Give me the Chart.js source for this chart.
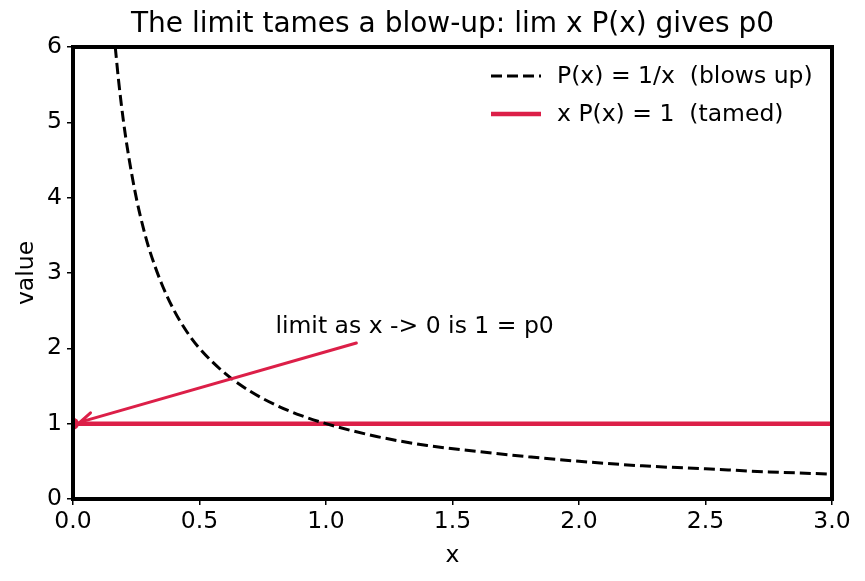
<!DOCTYPE html>
<html>
<head>
<meta charset="utf-8">
<script src="https://cdn.jsdelivr.net/npm/chart.js@4/dist/chart.umd.min.js"></script>
<style>
  html, body { margin: 0; padding: 0; background: #fff; }
  #wrap { width: 865px; height: 581px; }
</style>
</head>
<body>
<div id="wrap"><canvas id="limitChart"></canvas></div>
<script>
// values
const curveX = [0.167, 0.18, 0.2, 0.22, 0.25, 0.28, 0.3, 0.35, 0.4, 0.45, 0.5, 0.6, 0.7, 0.8, 0.9, 1.0, 1.2, 1.4, 1.6, 1.8, 2.0, 2.25, 2.5, 2.75, 3.0];
const curveY = [6.0, 5.56, 5.0, 4.55, 4.0, 3.57, 3.33, 2.86, 2.5, 2.22, 2.0, 1.67, 1.43, 1.25, 1.11, 1.0, 0.83, 0.71, 0.63, 0.56, 0.5, 0.44, 0.4, 0.36, 0.33];
const tamedX = [0, 3];
const tamedY = [1, 1];
const xTicks = [0, 0.5, 1.0, 1.5, 2.0, 2.5, 3.0];
const yTicks = [0, 1, 2, 3, 4, 5, 6];
const noteText = 'limit as x -> 0 is 1 = p0';
const noteAt = [0.8, 2.22];
const arrowFrom = [1.12, 2.07];
const arrowTo = [0.028, 1.02];

const RED = '#dc1f48';
const FONT = "'DejaVu Sans', sans-serif";
const FS = 23.5;

function toPoints(xs, ys) {
  return xs.map((x, i) => ({ x: x, y: ys[i] }));
}

// title, frame, legend and the arrow note
const decor = {
  id: 'decor',
  afterDatasetsDraw(chart) {
    const { ctx, chartArea: a, scales } = chart;
    const px = v => scales.x.getPixelForValue(v);
    const py = v => scales.y.getPixelForValue(v);
    ctx.save();

    // arrow
    const x1 = px(arrowFrom[0]), y1 = py(arrowFrom[1]);
    const x2 = px(arrowTo[0]), y2 = py(arrowTo[1]);
    ctx.strokeStyle = RED;
    ctx.lineWidth = 3;
    ctx.lineCap = 'round';
    ctx.beginPath();
    ctx.moveTo(x1, y1);
    ctx.lineTo(x2, y2);
    const ang = Math.atan2(y1 - y2, x1 - x2);
    for (const d of [-0.45, 0.45]) {
      ctx.moveTo(x2, y2);
      ctx.lineTo(x2 + 14 * Math.cos(ang + d), y2 + 14 * Math.sin(ang + d));
    }
    ctx.stroke();

    ctx.fillStyle = '#000';
    ctx.font = FS + 'px ' + FONT;
    ctx.textAlign = 'left';
    ctx.textBaseline = 'alphabetic';
    ctx.fillText(noteText, px(noteAt[0]), py(noteAt[1]) + 1);

    // frame
    ctx.strokeStyle = '#000';
    ctx.lineWidth = 4;
    ctx.lineCap = 'butt';
    ctx.strokeRect(a.left, a.top, a.right - a.left, a.bottom - a.top);

    // title
    ctx.font = '28px ' + FONT;
    ctx.textAlign = 'center';
    ctx.textBaseline = 'middle';
    ctx.fillText('The limit tames a blow-up: lim x P(x) gives p0', (a.left + a.right) / 2, 25);

    // legend
    ctx.font = FS + 'px ' + FONT;
    ctx.textAlign = 'left';
    chart.data.datasets.forEach((ds, i) => {
      const y = 76 + i * 38;
      ctx.strokeStyle = ds.borderColor;
      ctx.lineWidth = ds.borderWidth;
      ctx.setLineDash(ds.borderDash || []);
      ctx.beginPath();
      ctx.moveTo(491, y);
      ctx.lineTo(541, y);
      ctx.stroke();
      ctx.setLineDash([]);
      ctx.fillText(ds.label, 557, y + 1);
    });
    ctx.restore();
  }
};

new Chart(document.getElementById('limitChart'), {
  type: 'line',
  data: {
    datasets: [{
      label: 'P(x) = 1/x  (blows up)',
      data: toPoints(curveX, curveY),
      borderColor: '#000',
      borderWidth: 3,
      borderDash: [11, 5],
      pointRadius: 0,
      cubicInterpolationMode: 'monotone'
    }, {
      label: 'x P(x) = 1  (tamed)',
      data: toPoints(tamedX, tamedY),
      borderColor: RED,
      backgroundColor: RED,
      borderWidth: 4.5,
      pointRadius: [6, 0],
      pointBorderWidth: 0
    }]
  },
  options: {
    responsive: true,
    maintainAspectRatio: false,
    animation: false,
    layout: { padding: { top: 47, right: 33, left: 0, bottom: 0 } },
    plugins: {
      legend: { display: false },
      tooltip: { enabled: false }
    },
    scales: {
      x: {
        type: 'linear',
        min: 0,
        max: 3,
        afterBuildTicks: s => { s.ticks = xTicks.map(v => ({ value: v })); },
        afterFit: s => { s.height = 82; },
        grid: { drawOnChartArea: false, drawTicks: true, tickLength: 6, color: '#000', lineWidth: 1.5 },
        border: { display: false },
        ticks: {
          color: '#000',
          font: { family: FONT, size: FS },
          padding: 3,
          maxRotation: 0,
          callback: v => v.toFixed(1)
        },
        title: { display: true, text: 'x', color: '#000', font: { family: FONT, size: FS }, padding: { top: 0, bottom: 11 } }
      },
      y: {
        min: 0,
        max: 6,
        afterBuildTicks: s => { s.ticks = yTicks.map(v => ({ value: v })); },
        afterFit: s => { s.width = 73; },
        grid: { drawOnChartArea: false, drawTicks: true, tickLength: 6, color: '#000', lineWidth: 1.5 },
        border: { display: false },
        ticks: {
          color: '#000',
          font: { family: FONT, size: FS },
          padding: 5,
          callback: v => String(v)
        },
        title: { display: true, text: 'value', color: '#000', font: { family: FONT, size: FS }, padding: { top: 13, bottom: 0 } }
      }
    }
  },
  plugins: [decor]
});
</script>
</body>
</html>
